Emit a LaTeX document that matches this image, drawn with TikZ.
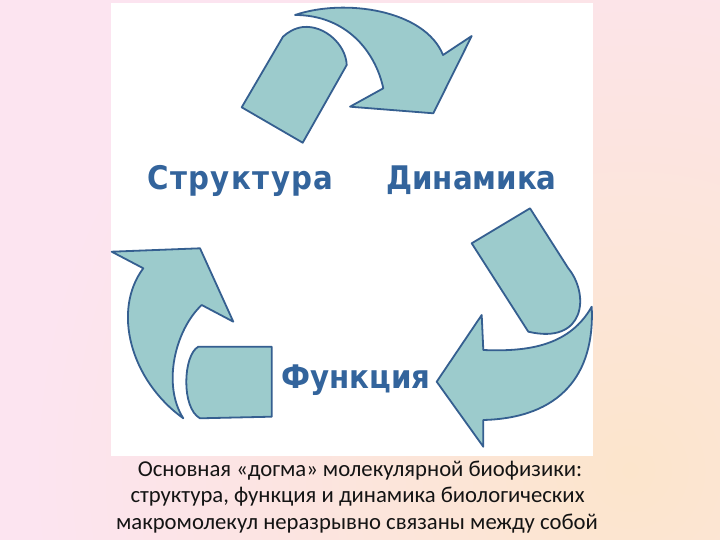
\documentclass[tikz,border=0pt]{standalone}
\usepackage{fontspec}
\setmainfont{Carlito}
\newfontfamily\labelfont{DejaVu Sans Condensed}
\definecolor{bgpink}{HTML}{FCE4F0}
\definecolor{bgpeach}{HTML}{FCE5CC}
\definecolor{arrowfill}{HTML}{9CCBCC}
\definecolor{arrowline}{HTML}{355F90}
\definecolor{labelblue}{HTML}{33649C}
\tikzset{
 piece/.style={fill=arrowfill, draw=arrowline, line width=1.8pt, line join=round},
 lbl/.style={font=\labelfont\bfseries\fontsize{32.5}{32.5}\selectfont, text=labelblue, anchor=base, inner sep=0pt},
 capline/.style={font=\fontsize{22.7}{26}\selectfont, text=black!92, anchor=base, inner sep=0pt}
}
\begin{document}
\begin{tikzpicture}[x=1pt,y=-1pt]
\useasboundingbox (0,0) rectangle (720,540);
\fill[bgpink] (0,0) rectangle (720,540);
\begin{scope}
\clip (0,0) rectangle (720,540);
\shade[inner color=bgpeach, outer color=bgpink] (630,470) circle (600);
\end{scope}
\fill[white] (110.5,3) rectangle (592.5,456);

% top pair
\draw[piece] (241.7,107.3) -- (302.7,142.7) -- (346.7,65)
  .. controls (346,45) and (325,25) .. (303,27)
  .. controls (295,28) and (288,32) .. (283,36.7) -- cycle;
\draw[piece] (295,15) .. controls (345,-2) and (425,10) .. (443,55)
  -- (471.7,36) -- (433.3,113.3) -- (350,106.7) -- (383.3,88.3)
  .. controls (375,50) and (345,15) .. (295,15) -- cycle;

% left pair
\draw[piece] (271.7,346.7) -- (198.3,346.7)
  .. controls (183,355) and (181,408) .. (200,418.3)
  -- (271.7,416.7) -- cycle;
\draw[piece] (183.3,418.3) .. controls (130,380) and (112,310) .. (143.3,268.3)
  -- (111.7,251.7) -- (200,248.3) -- (233.3,321.7) -- (201.7,305)
  .. controls (175,330) and (162,385) .. (183.3,418.3) -- cycle;

% right pair
\draw[piece] (471.7,243.3) -- (530,208.3) -- (568.3,268.3)
  .. controls (590,295) and (585,345) .. (528.3,331.7) -- cycle;
\draw[piece] (591.7,306.7) .. controls (595,375) and (560,418) .. (483.3,420)
  -- (483.3,446.7) -- (436.7,381.7) -- (481.7,315) -- (483.3,350)
  .. controls (530,352) and (570,345) .. (591.7,306.7) -- cycle;

\node[lbl] (struct) at (240.5,190) {\addfontfeature{LetterSpace=4.5}Структура};
\node[lbl] (dyn) at (471.5,190) {Динамика};
\node[lbl] (func) at (355.8,388) {Функция};

\node[capline] (c1) at (360,476) {Основная «догма» молекулярной биофизики:};
\node[capline] (c2) at (357.5,502) {структура, функция и динамика биологических};
\node[capline] (c3) at (357,529) {макромолекул неразрывно связаны между собой};
\end{tikzpicture}
\end{document}
